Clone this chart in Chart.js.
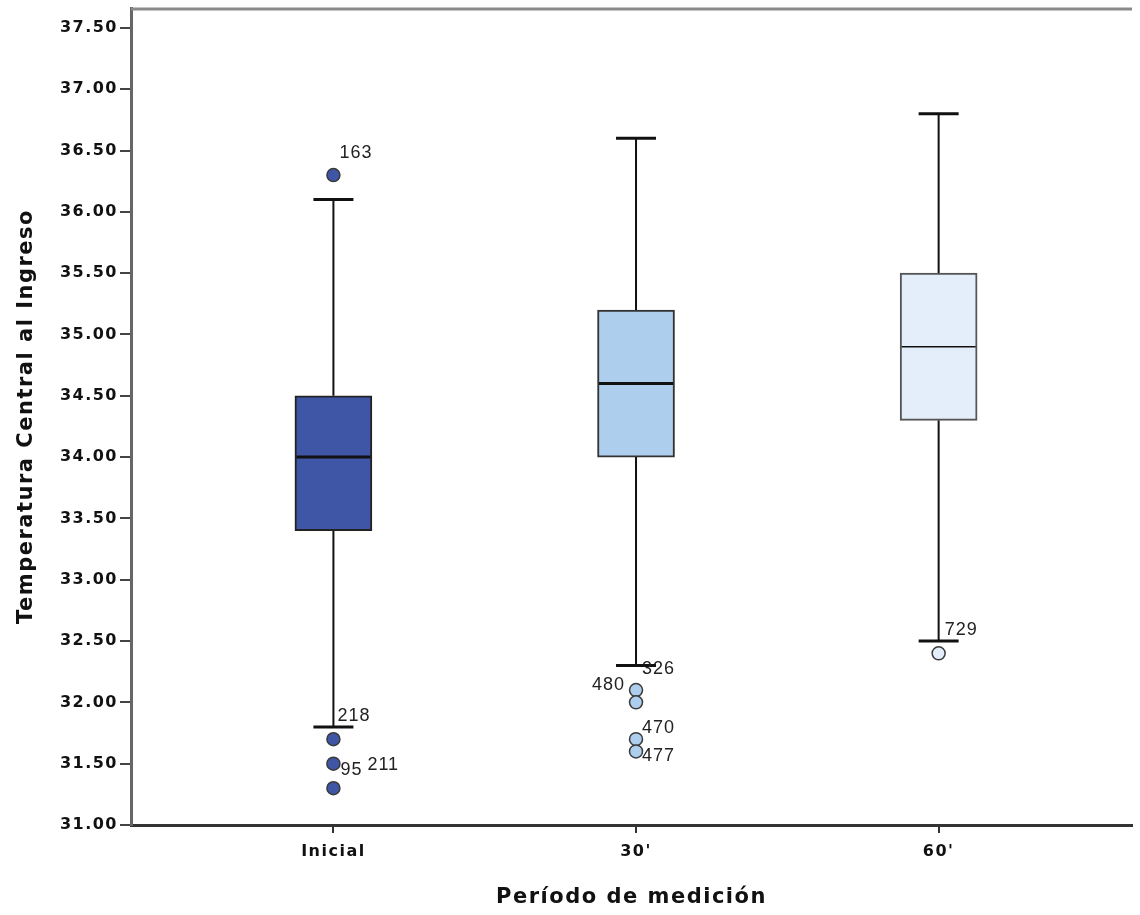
<!DOCTYPE html>
<html>
<head>
<meta charset="utf-8">
<script src="https://cdn.jsdelivr.net/npm/chart.js@4.4.1/dist/chart.umd.min.js"></script>
<style>
  html, body { margin: 0; padding: 0; background: #fff; }
  canvas { display: block; }
</style>
</head>
<body>
<canvas id="boxChart" width="1140" height="915"></canvas>
<script>
// Box plot values
const categories = ['Inicial', "30'", "60'"];
const q1 = [33.4, 34.0, 34.3];
const median = [34.0, 34.6, 34.9];
const q3 = [34.5, 35.2, 35.5];
const whiskerLow = [31.8, 32.3, 32.5];
const whiskerHigh = [36.1, 36.6, 36.8];

// Outliers (group index into categories)
const outlierGroup = [0, 0, 0, 0, 1, 1, 1, 1, 2];
const outlierValue = [36.3, 31.7, 31.5, 31.3, 32.1, 32.0, 31.7, 31.6, 32.4];
const outlierId = ['163', '218', '95', '211', '326', '480', '470', '477', '729'];

const yTicks = [31.0, 31.5, 32.0, 32.5, 33.0, 33.5, 34.0, 34.5, 35.0, 35.5, 36.0, 36.5, 37.0, 37.5];

// Styles
const boxColors = ['#3e56a5', '#adceed', '#e3eefa'];
const boxBorders = ['#222', '#333', '#555'];
const medianWidth = [3, 3, 1.5];
// label offsets in px from the point: [dx, dy, align]
const labelOffsets = [[6, -22, 'left'], [4, -23, 'left'], [7, 6, 'left'], [34, -23, 'left'],
  [6, -21, 'left'], [-11, -17, 'right'], [6, -11, 'left'], [6, 5, 'left'], [6, -23, 'left']];
const BOLD = '"DejaVu Sans", Verdana, sans-serif';
const PLAIN = '"Liberation Sans", Arial, sans-serif';

const boxPlotPlugin = {
  id: 'boxPlot',
  beforeDraw(chart) {
    chart.ctx.letterSpacing = '1.5px';
  },
  beforeDatasetsDraw(chart) {
    const { ctx, scales: { x, y } } = chart;
    ctx.save();
    ctx.strokeStyle = '#111';
    categories.forEach((c, i) => {
      const px = x.getPixelForValue(i + 1);
      ctx.lineWidth = 2;
      ctx.beginPath();
      ctx.moveTo(px, y.getPixelForValue(q3[i]));
      ctx.lineTo(px, y.getPixelForValue(whiskerHigh[i]));
      ctx.moveTo(px, y.getPixelForValue(q1[i]));
      ctx.lineTo(px, y.getPixelForValue(whiskerLow[i]));
      ctx.stroke();
      ctx.lineWidth = 3;
      ctx.beginPath();
      [whiskerHigh[i], whiskerLow[i]].forEach(v => {
        const py = y.getPixelForValue(v);
        ctx.moveTo(px - 20, py);
        ctx.lineTo(px + 20, py);
      });
      ctx.stroke();
    });
    ctx.restore();
  },
  afterDatasetsDraw(chart) {
    const { ctx, chartArea, scales: { x, y } } = chart;
    ctx.save();
    // medians
    ctx.strokeStyle = '#111';
    categories.forEach((c, i) => {
      const px = x.getPixelForValue(i + 1);
      const py = y.getPixelForValue(median[i]);
      ctx.lineWidth = medianWidth[i];
      ctx.beginPath();
      ctx.moveTo(px - 37, py);
      ctx.lineTo(px + 37, py);
      ctx.stroke();
    });
    // outlier ids
    ctx.letterSpacing = '1px';
    ctx.font = '18px ' + PLAIN;
    ctx.fillStyle = '#222';
    ctx.textBaseline = 'middle';
    outlierId.forEach((id, i) => {
      const [dx, dy, align] = labelOffsets[i];
      ctx.textAlign = align;
      ctx.fillText(id, x.getPixelForValue(outlierGroup[i] + 1) + dx, y.getPixelForValue(outlierValue[i]) + dy);
    });
    // top frame line
    ctx.strokeStyle = '#8a8a8a';
    ctx.lineWidth = 3;
    ctx.beginPath();
    ctx.moveTo(chartArea.left, chartArea.top + 1);
    ctx.lineTo(chartArea.right, chartArea.top + 1);
    ctx.stroke();
    ctx.restore();
  },
  afterDraw(chart) {
    chart.ctx.letterSpacing = '0px';
  }
};

new Chart(document.getElementById('boxChart'), {
  type: 'bar',
  data: {
    datasets: [
      {
        type: 'scatter',
        data: outlierValue.map((v, i) => ({ x: outlierGroup[i] + 1, y: v })),
        pointRadius: 6.5,
        pointBackgroundColor: outlierGroup.map(g => boxColors[g]),
        pointBorderColor: '#3a3a3a',
        pointBorderWidth: 1.5,
        order: 0
      },
      {
        type: 'bar',
        data: categories.map((c, i) => ({ x: i + 1, y: [q1[i], q3[i]] })),
        backgroundColor: boxColors,
        borderColor: boxBorders,
        borderWidth: 2,
        borderSkipped: false,
        barThickness: 77,
        order: 1
      }
    ]
  },
  options: {
    responsive: false,
    animation: false,
    devicePixelRatio: 1,
    layout: { padding: { top: 5, right: 0, bottom: 0, left: 0 } },
    plugins: { legend: { display: false }, tooltip: { enabled: false } },
    scales: {
      x: {
        type: 'linear',
        min: 0.3311,
        max: 3.639,
        offset: false,
        afterBuildTicks: s => { s.ticks = categories.map((c, i) => ({ value: i + 1 })); },
        afterFit: s => { s.height = 90; s.paddingLeft = 0; s.paddingRight = 0; },
        ticks: {
          callback: (v, i) => categories[i],
          font: { family: BOLD, size: 16, weight: 'bold' },
          color: '#111',
          padding: 9,
          maxRotation: 0,
          autoSkip: false
        },
        grid: { drawOnChartArea: false, offset: false, tickLength: 8, color: '#333', lineWidth: 2 },
        border: { color: '#333', width: 3 },
        title: {
          display: true,
          text: 'Período de medición',
          font: { family: BOLD, size: 21, weight: 'bold' },
          color: '#111',
          padding: { top: 0, bottom: 5 }
        }
      },
      y: {
        min: 31,
        max: 37.6625,
        afterBuildTicks: s => { s.ticks = yTicks.map(v => ({ value: v })); },
        afterFit: s => { s.width = 131; s.paddingTop = 0; s.paddingBottom = 0; },
        ticks: {
          callback: v => v.toFixed(2),
          font: { family: BOLD, size: 16, weight: 'bold' },
          color: '#111',
          padding: 2
        },
        grid: { drawOnChartArea: false, tickLength: 11, color: '#444', lineWidth: 2 },
        border: { color: '#666', width: 3 },
        title: {
          display: true,
          text: 'Temperatura Central al Ingreso',
          font: { family: BOLD, size: 21, weight: 'bold' },
          color: '#111',
          padding: { top: 14, bottom: 0 }
        }
      }
    }
  },
  plugins: [boxPlotPlugin]
});
</script>
</body>
</html>
